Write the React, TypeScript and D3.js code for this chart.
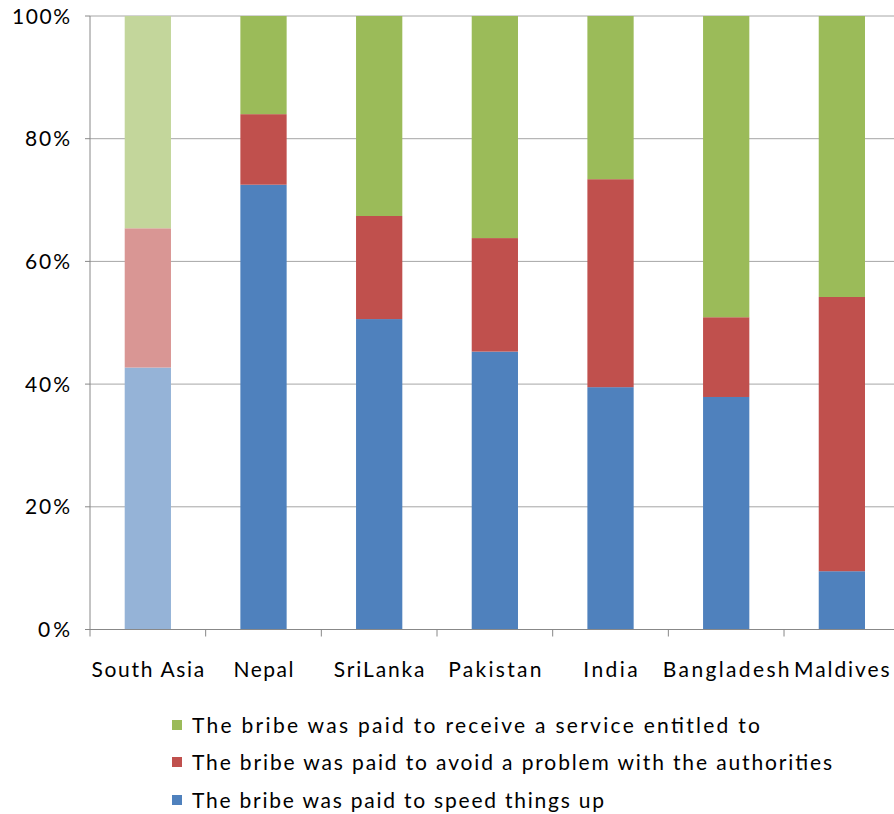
import React from "react";
import * as d3 from "d3";

const categories = ["South Asia", "Nepal", "SriLanka", "Pakistan", "India", "Bangladesh", "Maldives"];
const speedUp = [42.7, 72.5, 50.6, 45.3, 39.5, 37.9, 9.5];
const avoidProblem = [22.7, 11.5, 16.8, 18.5, 33.9, 13.0, 44.7];
const receiveService = [34.6, 16.0, 32.6, 36.2, 26.6, 49.1, 45.8];
const seriesNames = [
  "The bribe was paid to speed things up",
  "The bribe was paid to avoid a problem with the authorities",
  "The bribe was paid to receive a service entitled to",
];
const yTicks = [0, 20, 40, 60, 80, 100];

const colors = ["#4F81BD", "#C0504D", "#9BBB59"];
const lightColors = ["#95B3D7", "#D99694", "#C3D69B"];

const xLabelWidths = [112.6, 60, 90.7, 93.3, 54.3, 126.7, 95.7];
const legendWidths = [412, 640, 568];

export default function App() {
  const W = 894, H = 814;
  const left = 90, right = 899.7, top = 16, bottom = 629.5;
  const x = d3.scaleBand<string>().domain(categories).range([left, right]).paddingInner(0.6).paddingOuter(0.3);
  const y = d3.scaleLinear().domain([0, 100]).range([bottom, top]);
  const rows = categories.map((c, i) => ({ cat: c, s0: speedUp[i], s1: avoidProblem[i], s2: receiveService[i] }));
  const stack = d3.stack<any>().keys(["s0", "s1", "s2"]);
  const stacked = stack(rows);
  const step = x.step();
  const font = "Lato, 'Liberation Sans', sans-serif";
  const fs = 21;
  const legendOrder = [2, 1, 0];
  const legendY = [725, 762, 800];
  const yLabelW = (t: number) => (t === 100 ? 58 : t === 0 ? 32 : 45);

  return (
    <svg width={W} height={H} style={{ position: "absolute", left: 0, top: 0, background: "#fff" }}>
      {yTicks.map((t) => (
        <g key={t}>
          {t > 0 && <line x1={left} x2={W} y1={y(t)} y2={y(t)} stroke="#A6A6A6" strokeWidth={1} />}
          <line x1={left - 5} x2={left} y1={y(t)} y2={y(t)} stroke="#888" strokeWidth={1} />
          <text
            x={70}
            y={y(t)}
            dy="0.36em"
            textAnchor="end"
            fontFamily={font}
            fontSize={fs}
            textLength={yLabelW(t)}
            lengthAdjust="spacing"
            fill="#000"
          >
            {t}%
          </text>
        </g>
      ))}
      {stacked.map((layer, li) =>
        layer.map((d, i) => (
          <rect
            key={li + "-" + i}
            x={x(categories[i])}
            width={x.bandwidth()}
            y={y(d[1])}
            height={y(d[0]) - y(d[1])}
            fill={i === 0 ? lightColors[li] : colors[li]}
          />
        ))
      )}
      <line x1={left} x2={left} y1={top} y2={bottom} stroke="#888" strokeWidth={1} />
      <line x1={left} x2={W} y1={bottom} y2={bottom} stroke="#888" strokeWidth={1} />
      {d3.range(categories.length + 1).map((i) => (
        <line key={i} x1={left + i * step} x2={left + i * step} y1={bottom} y2={bottom + 7} stroke="#888" strokeWidth={1} />
      ))}
      {categories.map((c, i) => (
        <text
          key={c}
          x={(x(c) as number) + x.bandwidth() / 2}
          y={677}
          textAnchor="middle"
          fontFamily={font}
          fontSize={fs}
          textLength={xLabelWidths[i]}
          lengthAdjust="spacing"
          fill="#000"
        >
          {c}
        </text>
      ))}
      {legendOrder.map((si, k) => (
        <g key={si}>
          <rect x={172} y={legendY[k] - 5} width={10} height={10} fill={colors[si]} />
          <text
            x={192}
            y={legendY[k]}
            dy="0.36em"
            fontFamily={font}
            fontSize={fs}
            textLength={legendWidths[si]}
            lengthAdjust="spacing"
            fill="#000"
          >
            {seriesNames[si]}
          </text>
        </g>
      ))}
    </svg>
  );
}
